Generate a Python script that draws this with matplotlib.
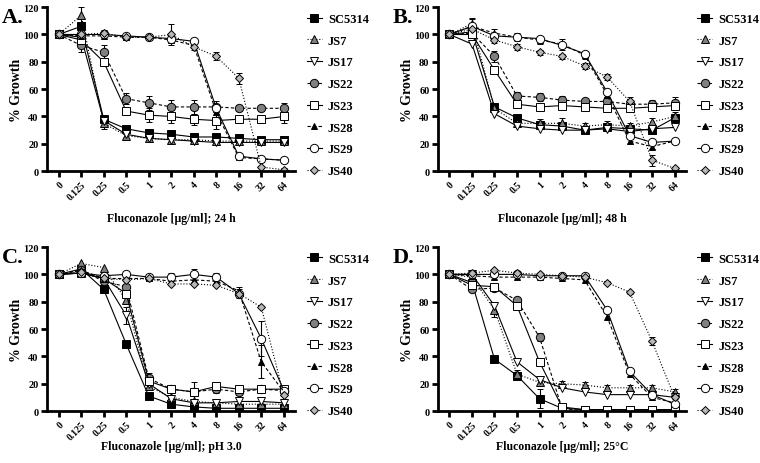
import numpy as np
import matplotlib
matplotlib.use("Agg")
import matplotlib.pyplot as plt
from matplotlib.lines import Line2D

plt.rcParams['font.family'] = ['Liberation Serif', 'DejaVu Serif']
plt.rcParams['font.weight'] = 'bold'

# fluconazole concentrations (ug/ml), plotted as categories
conc = ['0', '0.125', '0.25', '0.5', '1', '2', '4', '8', '16', '32', '64']
strains = ['SC5314', 'JS7', 'JS17', 'JS22', 'JS23', 'JS28', 'JS29', 'JS40']

# % growth, one list per strain and panel
A_SC5314 = [100, 106, 38, 31, 28, 27, 25, 25, 24, 23, 23]
A_JS7    = [100, 114, 35, 26, 24, 23, 23, 22, 22, 22, 22]
A_JS17   = [100, 98, 37, 27, 24, 23, 22, 21, 21, 21, 21]
A_JS22   = [100, 92, 87, 53, 50, 47, 47, 47, 46, 46, 46]
A_JS23   = [100, 96, 80, 44, 41, 40, 38, 37, 38, 38, 40]
A_JS28   = [100, 99, 99, 98, 98, 96, 92, 43, 10, 9, 8]
A_JS29   = [100, 100, 100, 99, 98, 97, 95, 46, 11, 9, 8]
A_JS40   = [100, 100, 101, 98, 98, 100, 91, 84, 68, 3, 1]

B_SC5314 = [100, 102, 47, 39, 34, 33, 30, 32, 31, 30, 39]
B_JS7    = [100, 108, 46, 35, 35, 35, 33, 34, 33, 36, 40]
B_JS17   = [100, 93, 42, 33, 31, 30, 30, 31, 29, 31, 32]
B_JS22   = [100, 101, 84, 55, 54, 52, 51, 51, 49, 49, 50]
B_JS23   = [100, 100, 74, 49, 47, 48, 47, 46, 46, 47, 48]
B_JS28   = [100, 106, 101, 98, 96, 93, 85, 56, 22, 18, 22]
B_JS29   = [100, 106, 99, 98, 97, 92, 86, 58, 26, 21, 22]
B_JS40   = [100, 104, 96, 91, 87, 84, 77, 69, 51, 8, 2]

C_SC5314 = [100, 104, 89, 49, 11, 5, 3, 2, 2, 2, 2]
C_JS7    = [100, 108, 105, 81, 18, 10, 7, 6, 5, 5, 5]
C_JS17   = [100, 101, 97, 70, 20, 9, 6, 6, 7, 7, 6]
C_JS22   = [100, 103, 95, 91, 24, 16, 14, 16, 14, 16, 15]
C_JS23   = [100, 101, 97, 86, 22, 16, 14, 18, 16, 16, 16]
C_JS28   = [100, 103, 97, 97, 97, 95, 96, 95, 88, 36, 14]
C_JS29   = [100, 101, 99, 100, 98, 98, 100, 98, 86, 53, 15]
C_JS40   = [100, 102, 97, 96, 97, 93, 93, 92, 86, 76, 12]

D_SC5314 = [100, 94, 38, 26, 9, 2, 1, 1, 1, 1, 1]
D_JS7    = [100, 98, 74, 27, 21, 20, 19, 17, 17, 17, 14]
D_JS17   = [100, 100, 77, 36, 23, 17, 14, 12, 12, 12, 10]
D_JS22   = [100, 89, 90, 81, 54, 2, 0, 0, 0, 0, 1]
D_JS23   = [100, 92, 91, 77, 36, 3, 1, 1, 1, 1, 1]
D_JS28   = [100, 99, 98, 98, 98, 97, 96, 69, 27, 10, 6]
D_JS29   = [100, 100, 100, 100, 99, 99, 99, 74, 29, 12, 5]
D_JS40   = [100, 101, 103, 101, 100, 99, 98, 94, 87, 51, 10]

# visible error bars (sd), keyed by panel/strain
err = {
    ('A', 'JS7'): [0, 6, 4, 2, 2, 2, 2, 2, 2, 2, 2],
    ('A', 'JS22'): [0, 5, 5, 4, 5, 5, 5, 4, 2, 2, 4],
    ('A', 'JS23'): [0, 3, 3, 3, 5, 5, 4, 6, 3, 3, 5],
    ('A', 'JS40'): [0, 3, 2, 2, 2, 8, 2, 3, 4, 1, 1],
    ('B', 'JS28'): [0, 6, 3, 3, 3, 4, 3, 3, 2, 2, 2],
    ('B', 'JS22'): [0, 3, 4, 3, 3, 3, 2, 3, 3, 3, 4],
    ('B', 'JS7'): [0, 3, 2, 2, 3, 4, 2, 3, 2, 3, 3],
    ('B', 'JS40'): [0, 2, 2, 2, 2, 2, 2, 2, 3, 4, 1],
    ('C', 'JS17'): [0, 3, 3, 6, 3, 2, 2, 2, 2, 2, 2],
    ('C', 'JS22'): [0, 3, 2, 2, 4, 3, 7, 3, 2, 3, 3],
    ('C', 'JS29'): [0, 2, 2, 2, 2, 3, 4, 3, 3, 13, 3],
    ('C', 'JS28'): [0, 2, 2, 2, 2, 3, 3, 3, 3, 12, 3],
    ('D', 'JS7'): [0, 2, 5, 3, 2, 2, 2, 2, 2, 2, 2],
    ('D', 'JS22'): [0, 2, 2, 2, 3, 1, 1, 1, 1, 1, 1],
    ('D', 'SC5314'): [0, 2, 2, 2, 7, 1, 1, 1, 1, 1, 1],
    ('D', 'JS40'): [0, 1, 1, 1, 1, 1, 1, 1, 1, 3, 1],
}

panels = {
    'A': [A_SC5314, A_JS7, A_JS17, A_JS22, A_JS23, A_JS28, A_JS29, A_JS40],
    'B': [B_SC5314, B_JS7, B_JS17, B_JS22, B_JS23, B_JS28, B_JS29, B_JS40],
    'C': [C_SC5314, C_JS7, C_JS17, C_JS22, C_JS23, C_JS28, C_JS29, C_JS40],
    'D': [D_SC5314, D_JS7, D_JS17, D_JS22, D_JS23, D_JS28, D_JS29, D_JS40],
}
xlabels = {'A': 'Fluconazole [\u00b5g/ml]; 24 h',
           'B': 'Fluconazole [\u00b5g/ml]; 48 h',
           'C': 'Fluconazole [\u00b5g/ml]; pH 3.0',
           'D': 'Fluconazole [\u00b5g/ml]; 25\u00b0C'}

# marker, facecolor, linestyle, markersize
styles = [
    ('s', 'black', '-', 5.5),
    ('^', '#808080', ':', 5.5),
    ('v', 'white', '-', 6),
    ('o', '#808080', (0, (3, 2)), 6),
    ('s', 'white', '-', 6),
    ('^', 'black', (0, (3, 2)), 4.5),
    ('o', 'white', '-', 6),
    ('D', '#b8b8b8', ':', 4),
]

fig = plt.figure(figsize=(7.6, 4.64), dpi=100)
rects = {'A': [0.0618, 0.629, 0.327, 0.3534],
         'B': [0.576, 0.629, 0.327, 0.3534],
         'C': [0.0618, 0.112, 0.327, 0.3534],
         'D': [0.576, 0.112, 0.327, 0.3534]}

handles = [Line2D([], [], marker=m, mfc=fc, mec='black', mew=0.7, ms=ms,
                  color='black', ls=ls, lw=0.8)
           for (m, fc, ls, ms) in styles]

x = np.arange(len(conc))
for key in ['A', 'B', 'C', 'D']:
    ax = fig.add_axes(rects[key])
    for name, y, (m, fc, ls, ms) in zip(strains, panels[key], styles):
        e = err.get((key, name))
        ax.errorbar(x, y, yerr=e, marker=m, mfc=fc, mec='black', mew=0.7,
                    ms=ms, color='black', ls=ls, lw=0.8, capsize=2.5,
                    elinewidth=0.8, capthick=0.8)
    ax.set_xlim(-0.52, 10.52)
    ax.set_ylim(0, 120)
    ax.set_yticks([0, 20, 40, 60, 80, 100, 120])
    ax.set_xticks(x)
    ax.set_xticklabels(conc, rotation=45, ha='right', rotation_mode='anchor',
                       fontsize=7, fontweight='bold')
    for t in ax.get_yticklabels():
        t.set_fontsize(7.5)
        t.set_fontweight('bold')
    for s in ['top', 'right']:
        ax.spines[s].set_visible(False)
    for s in ['left', 'bottom']:
        ax.spines[s].set_linewidth(2)
    ax.tick_params(width=2, length=4, direction='out', pad=2)
    ax.set_ylabel('% Growth', fontsize=10, fontweight='bold', labelpad=0)
    pad = 8 if key in ('A', 'B') else -1
    ax.set_xlabel(xlabels[key], fontsize=8.5, fontweight='bold', labelpad=pad)
    ax.text(-0.18, 1.0, key + '.', transform=ax.transAxes, fontsize=16,
            fontweight='bold', ha='left', va='top')
    ax.legend(handles, strains, loc='upper left', bbox_to_anchor=(1.025, 0.995),
              frameon=False, labelspacing=0.78, handlelength=1.2,
              handletextpad=0.5, borderaxespad=0,
              prop={'weight': 'bold', 'size': 9})

fig.savefig('out.png', dpi=100)
